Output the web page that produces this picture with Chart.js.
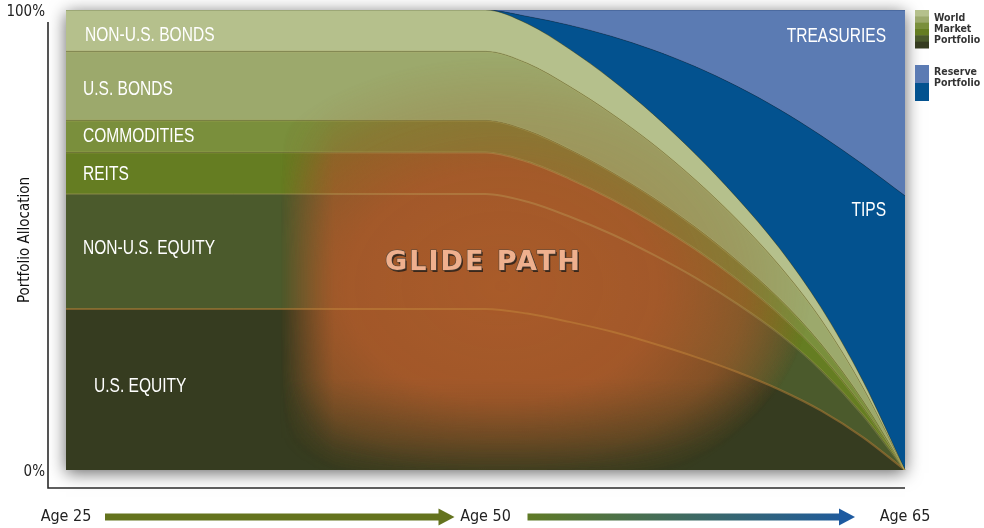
<!DOCTYPE html>
<html>
<head>
<meta charset="utf-8">
<title>Glide Path</title>
<script src="https://cdn.jsdelivr.net/npm/chart.js@4.4.0/dist/chart.umd.min.js"></script>
<style>
  html, body { margin: 0; padding: 0; background: #fff; }
  #wrap { width: 984px; height: 528px; position: relative; }
</style>
</head>
<body>
<div id="wrap"><canvas id="glideChart"></canvas></div>
<script>
// Edades (paso de 2.5 años hasta los 50, luego de 1.5 años hasta los 65)
const ages = [25, 27.5, 30, 32.5, 35, 37.5, 40, 42.5, 45, 47.5, 50,
              51.5, 53, 54.5, 56, 57.5, 59, 60.5, 62, 63.5, 65];
const milestones = [25, 50, 65];

// Cartera de mercado mundial (de abajo hacia arriba), % del total
const usEquity    = [35, 35, 35, 35, 35, 35, 35, 35, 35, 35, 35, 34.0, 32.2, 30.1, 27.5, 24.6, 21.3, 17.5, 12.9, 7.1, 0];
const nonUsEquity = [25, 25, 25, 25, 25, 25, 25, 25, 25, 25, 25, 24.3, 22.9, 21.2, 19.3, 17.2, 14.8, 12.1, 8.8, 4.8, 0];
const reits       = [9, 9, 9, 9, 9, 9, 9, 9, 9, 9, 9, 8.7, 8.2, 7.6, 7.0, 6.2, 5.3, 4.3, 3.2, 1.7, 0];
const commodities = [7, 7, 7, 7, 7, 7, 7, 7, 7, 7, 7, 6.8, 6.4, 5.9, 5.4, 4.8, 4.1, 3.4, 2.5, 1.4, 0];
const usBonds     = [15, 15, 15, 15, 15, 15, 15, 15, 15, 15, 15, 14.6, 13.7, 12.7, 11.6, 10.3, 8.9, 7.2, 5.3, 2.9, 0];
const nonUsBonds  = [9, 9, 9, 9, 9, 9, 9, 9, 9, 9, 9, 8.6, 8.1, 7.4, 6.5, 5.6, 4.7, 3.8, 2.6, 1.4, 0];
// Cartera de reserva
const tips        = [0, 0, 0, 0, 0, 0, 0, 0, 0, 0, 0, 1.6, 5.2, 9.4, 14.0, 19.0, 24.3, 30.1, 37.4, 47.1, 59.6];
const treasuries  = [0, 0, 0, 0, 0, 0, 0, 0, 0, 0, 0, 1.4, 3.3, 5.7, 8.7, 12.3, 16.6, 21.6, 27.3, 33.6, 40.4];

const seriesNames  = ['U.S. EQUITY', 'NON-U.S. EQUITY', 'REITS', 'COMMODITIES', 'U.S. BONDS', 'NON-U.S. BONDS', 'TIPS', 'TREASURIES'];
const seriesData   = [usEquity, nonUsEquity, reits, commodities, usBonds, nonUsBonds, tips, treasuries];
const seriesColors = ['#363c20', '#4b5a2c', '#657d22', '#7a8f3c', '#9ca96c', '#b5c08c', '#03528f', '#5b7bb3'];
const yTicks = [0, 100];

const COND = "'DejaVu Sans Condensed', sans-serif";
const SANS = "'Liberation Sans', Arial, sans-serif";

// texto estrecho (Helvetica condensada aproximada)
function narrowText(ctx, text, x, y, size, align, sx) {
  ctx.save();
  ctx.translate(x, y);
  ctx.scale(sx, 1);
  ctx.font = size + 'px ' + SANS;
  ctx.textAlign = align;
  ctx.textBaseline = 'middle';
  ctx.fillText(text, 0, 0);
  ctx.restore();
}

// Sombra del marco
const frameShadow = {
  id: 'frameShadow',
  beforeDatasetsDraw(chart) {
    const { ctx, chartArea: a } = chart;
    ctx.save();
    ctx.shadowColor = 'rgba(0,0,0,0.6)';
    ctx.shadowBlur = 16;
    ctx.shadowOffsetY = 3;
    ctx.fillStyle = '#363c20';
    ctx.fillRect(a.left, a.top, a.right - a.left, a.bottom - a.top);
    ctx.restore();
  }
};

function glowImage(w, h) {
  const off = document.createElement('canvas');
  off.width = w; off.height = h;
  const g = off.getContext('2d');
  const cx = w * 0.52, cy = h * 0.6, rx = w * 0.37, ry = h * 0.5;
  g.save();
  g.translate(cx, cy);
  g.scale(rx / ry, 1);
  const rg = g.createRadialGradient(0, 0, 0, 0, 0, ry);
  rg.addColorStop(0, 'rgba(170,91,42,0.96)');
  rg.addColorStop(0.5, 'rgba(166,89,42,0.92)');
  rg.addColorStop(0.78, 'rgba(160,90,42,0.55)');
  rg.addColorStop(1, 'rgba(160,90,42,0)');
  g.fillStyle = rg;
  g.fillRect(-cx * ry / rx - 10, -cy - 10, w * ry / rx + 20, h + 20);
  g.restore();
  g.globalCompositeOperation = 'destination-in';
  const gx = g.createLinearGradient(0, 0, w, 0);
  gx.addColorStop(0, 'rgba(0,0,0,0)');
  gx.addColorStop(0.255, 'rgba(0,0,0,0)');
  gx.addColorStop(0.32, 'rgba(0,0,0,1)');
  gx.addColorStop(1, 'rgba(0,0,0,1)');
  g.fillStyle = gx;
  g.fillRect(0, 0, w, h);
  const gy = g.createLinearGradient(0, 0, 0, h);
  gy.addColorStop(0, 'rgba(0,0,0,1)');
  gy.addColorStop(0.8, 'rgba(0,0,0,1)');
  gy.addColorStop(0.93, 'rgba(0,0,0,0.5)');
  gy.addColorStop(1, 'rgba(0,0,0,0.15)');
  g.fillStyle = gy;
  g.fillRect(0, 0, w, h);
  return off;
}

function clipUnder(ctx, chart, idx) {
  const a = chart.chartArea;
  ctx.beginPath();
  chart.getDatasetMeta(idx).dataset.path(ctx);
  ctx.lineTo(a.right, a.bottom);
  ctx.lineTo(a.left, a.bottom);
  ctx.closePath();
  ctx.clip();
}

// Resplandor naranja de la "glide path"
const glideGlow = {
  id: 'glideGlow',
  afterDatasetsDraw(chart) {
    const { ctx, chartArea: a } = chart;
    const w = Math.round(a.right - a.left), h = Math.round(a.bottom - a.top);
    const img = glowImage(w, h);
    // bonos EE.UU. (leve), materias primas (medio), REITs y acciones (fuerte)
    [[4, 0.3], [3, 0.45], [2, 1]].forEach(([idx, alpha]) => {
      ctx.save();
      clipUnder(ctx, chart, idx);
      ctx.globalAlpha = alpha;
      ctx.drawImage(img, a.left, a.top, w, h);
      ctx.restore();
    });
    // bordes de las bandas
    ctx.save();
    clipUnder(ctx, chart, 5);
    for (let i = 0; i < 5; i++) {
      ctx.beginPath();
      chart.getDatasetMeta(i).dataset.path(ctx);
      ctx.lineWidth = 2;
      ctx.strokeStyle = i === 0 ? 'rgba(195,135,60,0.5)' : 'rgba(200,190,110,0.28)';
      ctx.stroke();
    }
    ctx.restore();
  }
};

// Etiquetas, leyenda y flechas
const decorations = {
  id: 'decorations',
  afterDraw(chart) {
    const { ctx, chartArea: a, scales: { x, y } } = chart;
    ctx.save();

    // ejes desplazados
    ctx.strokeStyle = '#2a2a2a';
    ctx.lineWidth = 1.6;
    ctx.beginPath();
    ctx.moveTo(a.left - 18, a.top + 12);
    ctx.lineTo(a.left - 18, a.bottom + 18);
    ctx.lineTo(a.right, a.bottom + 18);
    ctx.stroke();

    // nombres de las bandas (lado izquierdo)
    const xOffsets = [28, 17, 17, 17, 17, 19];
    const yNudge = [-3, -3, 1, 0, 3, 5];
    ctx.fillStyle = '#fff';
    let cum = 0;
    for (let i = 0; i < 6; i++) {
      const v = seriesData[i][0];
      narrowText(ctx, seriesNames[i], a.left + xOffsets[i], y.getPixelForValue(cum + v / 2) + yNudge[i], 21, 'left', 0.74);
      cum += v;
    }
    // reserva (lado derecho)
    narrowText(ctx, seriesNames[7], a.right - 19, a.top + 26, 21, 'right', 0.74);
    narrowText(ctx, seriesNames[6], a.right - 19, y.getPixelForValue(56.5), 21, 'right', 0.74);

    // GLIDE PATH
    ctx.textAlign = 'center';
    ctx.textBaseline = 'middle';
    ctx.font = 'bold 27px "DejaVu Sans", sans-serif';
    ctx.letterSpacing = '2px';
    const gxp = x.getPixelForValue(10) - 2, gyp = y.getPixelForValue(45);
    ctx.fillStyle = 'rgba(40,30,25,0.85)';
    ctx.fillText('GLIDE PATH', gxp + 1.5, gyp + 1.5);
    ctx.lineWidth = 1.2;
    ctx.strokeStyle = 'rgba(80,70,60,0.9)';
    ctx.strokeText('GLIDE PATH', gxp, gyp);
    ctx.fillStyle = '#efb08e';
    ctx.fillText('GLIDE PATH', gxp, gyp);
    ctx.letterSpacing = '0px';

    // leyenda
    const lx = a.right + 10, sw = 14;
    const worldH = 38 / 6;
    for (let i = 0; i < 6; i++) {
      ctx.fillStyle = seriesColors[5 - i];
      ctx.fillRect(lx, a.top + i * worldH, sw, worldH + 0.5);
    }
    ctx.fillStyle = seriesColors[7];
    ctx.fillRect(lx, a.top + 55, sw, 18);
    ctx.fillStyle = seriesColors[6];
    ctx.fillRect(lx, a.top + 73, sw, 18);
    ctx.fillStyle = '#333';
    ctx.font = 'bold 10.5px ' + COND;
    ctx.textAlign = 'left';
    ['World', 'Market', 'Portfolio'].forEach((t, i) => ctx.fillText(t, lx + 19, a.top + 8 + i * 11));
    ['Reserve', 'Portfolio'].forEach((t, i) => ctx.fillText(t, lx + 19, a.top + 62 + i * 11));

    // flechas de edad
    const ay = a.bottom + 47;
    const last = ages.length - 1;
    const x25 = x.getPixelForValue(0), x50 = x.getPixelForValue(10), x65 = x.getPixelForValue(last);
    drawArrow(ctx, x25 + 39, x50 - 31, ay, '#64731e', '#64731e');
    drawArrow(ctx, x50 + 42, x65 - 50, ay, '#5f7a26', '#1d5aa0');
    ctx.restore();
  }
};

function drawArrow(ctx, x1, x2, yy, c1, c2) {
  const grad = ctx.createLinearGradient(x1, 0, x2, 0);
  grad.addColorStop(0, c1);
  grad.addColorStop(1, c2);
  ctx.fillStyle = grad;
  ctx.fillRect(x1, yy - 3.5, x2 - x1 - 14, 7);
  ctx.beginPath();
  ctx.moveTo(x2 - 16, yy - 8.5);
  ctx.lineTo(x2, yy);
  ctx.lineTo(x2 - 16, yy + 8.5);
  ctx.closePath();
  ctx.fillStyle = c2;
  ctx.fill();
}

const datasets = seriesNames.map((name, i) => ({
  label: name,
  data: seriesData[i],
  backgroundColor: seriesColors[i],
  borderColor: i < 6 ? 'rgba(40,50,20,0.35)' : 'rgba(0,30,70,0.35)',
  borderWidth: 1,
  pointRadius: 0,
  fill: i === 0 ? 'origin' : '-1',
  cubicInterpolationMode: 'monotone'
}));

new Chart(document.getElementById('glideChart'), {
  type: 'line',
  data: { labels: ages.map(String), datasets },
  options: {
    responsive: true,
    maintainAspectRatio: false,
    animation: false,
    layout: { padding: { top: 10, right: 79, left: 0, bottom: 0 } },
    plugins: { legend: { display: false }, tooltip: { enabled: false } },
    scales: {
      x: {
        grid: { display: false, drawTicks: false },
        border: { display: false },
        ticks: {
          autoSkip: false,
          maxRotation: 0,
          padding: 37,
          color: '#222',
          font: { family: COND, size: 16 },
          callback: (v, i) => milestones.includes(ages[i]) ? 'Age ' + ages[i] : ''
        },
        afterFit: s => { s.height = 58; s.paddingLeft = 0; s.paddingRight = 0; }
      },
      y: {
        stacked: true,
        min: 0,
        max: 100,
        grid: { display: false, drawTicks: false },
        border: { display: false },
        afterBuildTicks: s => { s.ticks = yTicks.map(v => ({ value: v })); },
        ticks: {
          padding: 21,
          labelOffset: 2,
          color: '#222',
          font: { family: COND, size: 15 },
          callback: v => v + '%'
        },
        title: {
          display: true,
          text: 'Portfolio Allocation',
          color: '#111',
          font: { family: COND, size: 15 },
          padding: { top: 16, bottom: 0 }
        },
        afterFit: s => { s.width = 66; s.paddingTop = 0; s.paddingBottom = 0; }
      }
    }
  },
  plugins: [frameShadow, glideGlow, decorations]
});
</script>
</body>
</html>
